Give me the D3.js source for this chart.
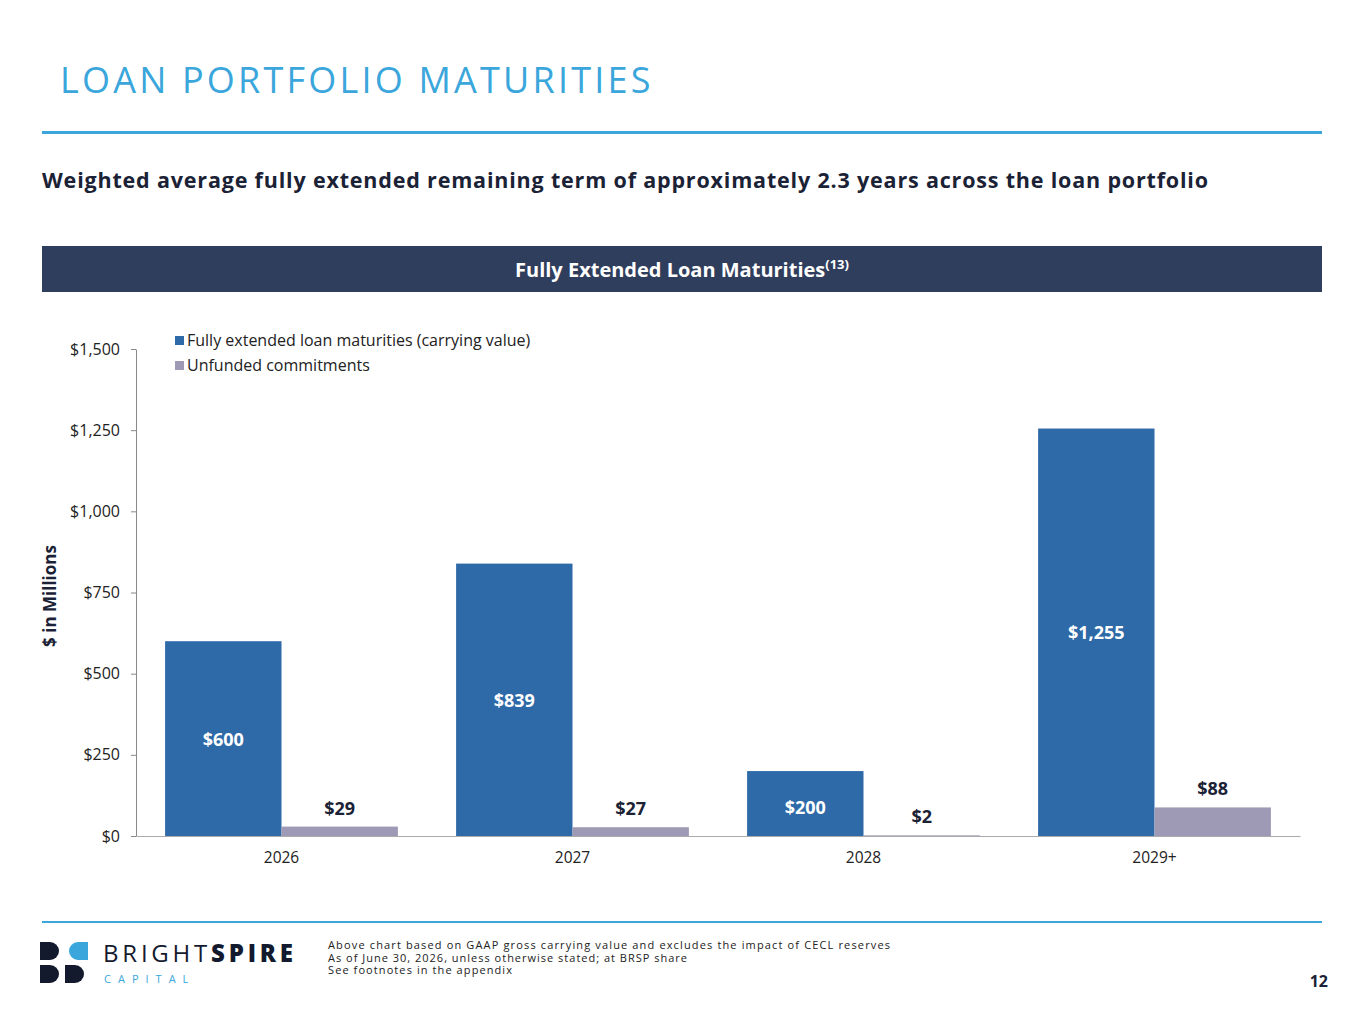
<!DOCTYPE html>
<html><head><meta charset="utf-8">
<script src="https://cdn.jsdelivr.net/npm/d3@7"></script>
<style>body{margin:0;background:#fff;font-family:"Open Sans",sans-serif;}</style>
</head><body><svg id="c" width="1365" height="1024"></svg>
<script>
const categories = ["2026","2027","2028","2029+"];
const loanMaturities = [600,839,200,1255];
const unfunded = [29,27,2,88];
const seriesNames = ["Fully extended loan maturities (carrying value)","Unfunded commitments"];
const yTicks = [0,250,500,750,1000,1250,1500];
const colors = ["#2e69a8","#9e9ab5"];
const svg = d3.select("#c");
const F = "'Open Sans', sans-serif";

svg.append("text").attr("x",60).attr("y",93).attr("font-size",36).attr("fill","#3aa6dc")
  .attr("letter-spacing",3.2).attr("font-family",F).text("LOAN PORTFOLIO MATURITIES");
svg.append("rect").attr("x",42).attr("y",131).attr("width",1280).attr("height",3).attr("fill","#3aa6dc");
svg.append("text").attr("x",42).attr("y",188).attr("font-size",21.5).attr("font-weight",700).attr("fill","#1b2235")
  .attr("font-family",F).attr("textLength",1166).text("Weighted average fully extended remaining term of approximately 2.3 years across the loan portfolio");
svg.append("rect").attr("x",42).attr("y",246).attr("width",1280).attr("height",46).attr("fill","#2f3e5c");
const tt = svg.append("text").attr("x",682).attr("y",277).attr("text-anchor","middle").attr("font-size",20)
  .attr("font-weight",700).attr("fill","#fff").attr("font-family",F);
tt.append("tspan").text("Fully Extended Loan Maturities");
tt.append("tspan").attr("font-size",13).attr("dy",-8).text("(13)");

const x = d3.scaleBand().domain(categories).range([136,1300]).paddingInner(0.2).paddingOuter(0.1);
const x1 = d3.scaleBand().domain([0,1]).range([0,x.bandwidth()]);
const y = d3.scaleLinear().domain([0,1500]).range([836,349]);

const ya = svg.append("g").attr("transform","translate(136,0)").call(d3.axisLeft(y).tickValues(yTicks).tickFormat(d=>"$"+d3.format(",")(d)).tickSize(5).tickSizeOuter(0));
ya.selectAll("text").attr("font-size",16).attr("fill","#222").attr("font-family",F).attr("dx",-8);
ya.selectAll("line,path").attr("stroke","#888");
const xa = svg.append("g").attr("transform","translate(0,836)").call(d3.axisBottom(x).tickSize(0).tickSizeOuter(0));
xa.selectAll("text").attr("font-size",15.5).attr("fill","#222").attr("font-family",F).attr("dy",24);
xa.select("path").attr("stroke","#aaa");
svg.append("text").attr("transform","translate(56,596) rotate(-90)").attr("text-anchor","middle").attr("font-size",17)
  .attr("font-weight",700).attr("fill","#1b2235").attr("font-family",F).text("$ in Millions");

const data = [loanMaturities, unfunded];
data.forEach((vals,s)=>{
  svg.append("g").selectAll("rect").data(vals).join("rect")
    .attr("x",(d,i)=>x(categories[i])+x1(s)).attr("width",x1.bandwidth())
    .attr("y",d=>y(d)).attr("height",d=>836-y(d)).attr("fill",colors[s]);
});
svg.append("g").selectAll("text").data(loanMaturities).join("text")
  .attr("x",(d,i)=>x(categories[i])+x1(0)+x1.bandwidth()/2)
  .attr("y",(d,i)=>i===2?y(d)+43:y(d/2)+7)
  .attr("text-anchor","middle").attr("font-size",18).attr("font-weight",700).attr("fill","#fff").attr("font-family",F)
  .text(d=>"$"+d3.format(",")(d));
svg.append("g").selectAll("text").data(unfunded).join("text")
  .attr("x",(d,i)=>x(categories[i])+x1(1)+x1.bandwidth()/2)
  .attr("y",(d,i)=>i===2?823:y(d)-12)
  .attr("text-anchor","middle").attr("font-size",18).attr("font-weight",700).attr("fill","#1b2235").attr("font-family",F)
  .text(d=>"$"+d);

const lg = svg.append("g").attr("transform","translate(175,333)");
seriesNames.forEach((n,i)=>{
  lg.append("rect").attr("x",0).attr("y",i*25+3).attr("width",9).attr("height",9).attr("fill",colors[i]);
  lg.append("text").attr("x",12).attr("y",i*25+13).attr("font-size",16).attr("fill","#222").attr("font-family",F).text(n);
});

svg.append("rect").attr("x",42).attr("y",921).attr("width",1280).attr("height",2).attr("fill","#3aa6dc");
const lgo = svg.append("g").attr("transform","translate(40,942)");
const dk="#141a2e", lb="#3aa6dc";
lgo.append("path").attr("d","M0,0h10a9,9 0 0 1 0,18h-10z").attr("fill",dk);
lgo.append("path").attr("d","M30,0h18v18h-10a9,9 0 0 1 0,-18z").attr("fill",lb);
lgo.append("path").attr("d","M0,23h10a9,9 0 0 1 0,18h-10z").attr("fill",dk);
lgo.append("path").attr("d","M25,23h10a9,9 0 0 1 0,18h-10z").attr("fill",dk);
const bt = svg.append("text").attr("x",103).attr("y",962).attr("font-size",24).attr("fill",dk).attr("font-family",F).attr("textLength",190);
bt.append("tspan").text("BRIGHT");
bt.append("tspan").attr("font-weight",800).text("SPIRE");
svg.append("text").attr("x",104).attr("y",983).attr("font-size",11).attr("fill",lb).attr("letter-spacing",7).attr("font-family",F).text("CAPITAL");
const fl = [[ "Above chart based on GAAP gross carrying value and excludes the impact of CECL reserves",562],["As of June 30, 2026, unless otherwise stated; at BRSP share",359],["See footnotes in the appendix",184]];
fl.forEach(([t,w],i)=>
  svg.append("text").attr("x",328).attr("y",949+i*12.5).attr("font-size",11).attr("fill","#222").attr("font-family",F).attr("textLength",w).text(t));
svg.append("text").attr("x",1328).attr("y",987).attr("text-anchor","end").attr("font-size",16).attr("font-weight",700).attr("fill","#1b2235").attr("font-family",F).text("12");
</script></body></html>
